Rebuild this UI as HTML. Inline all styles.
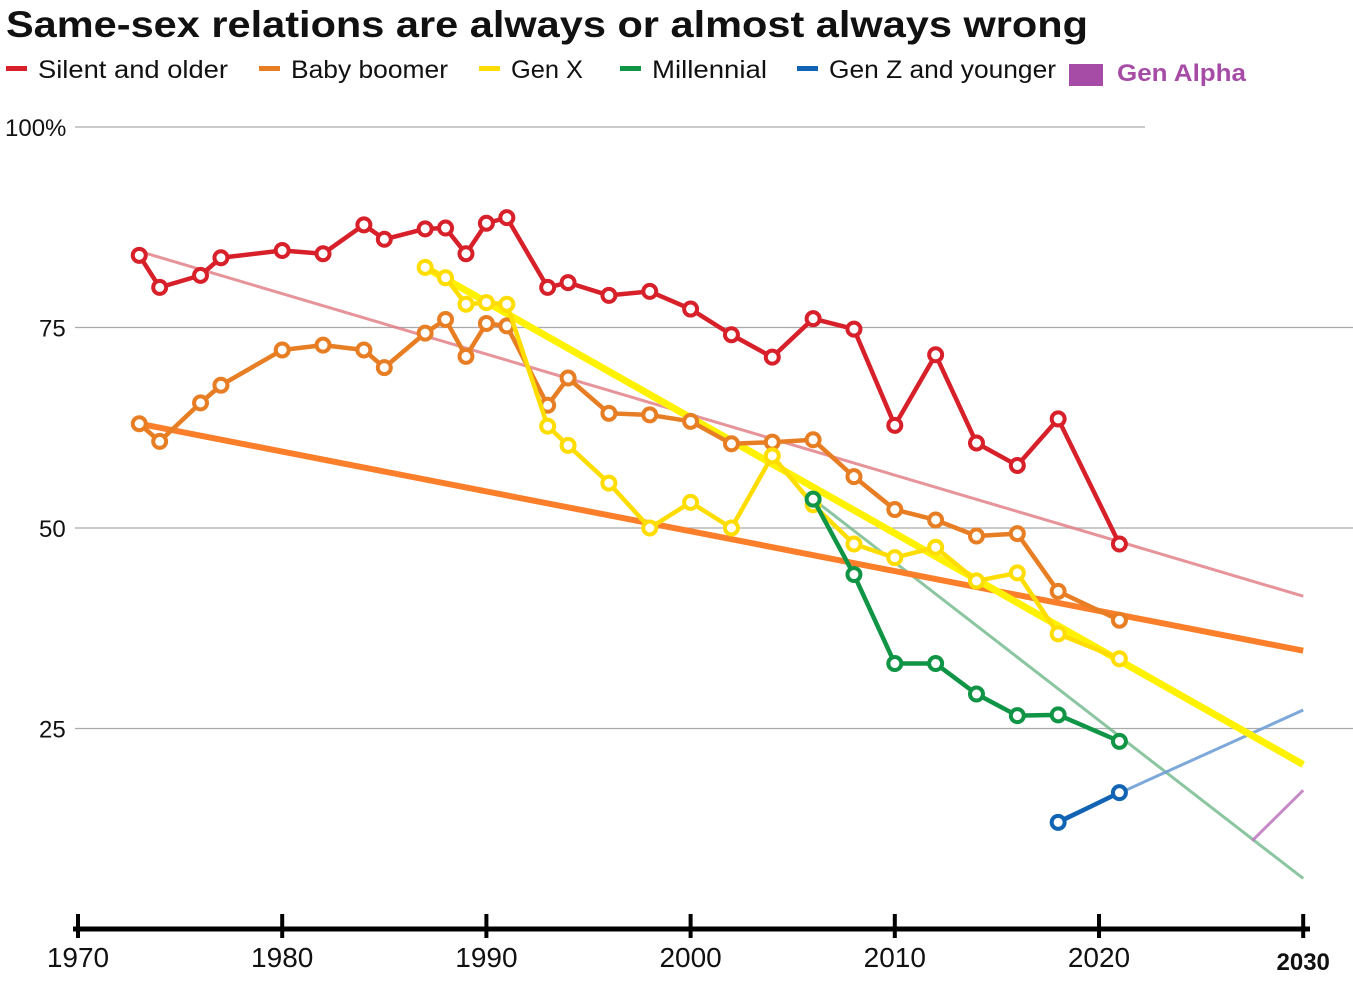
<!DOCTYPE html>
<html><head><meta charset="utf-8">
<style>
html,body{margin:0;padding:0;background:#fff;}
svg{display:block;font-family:"Liberation Sans",sans-serif;}
</style></head>
<body>
<svg id="chart" width="1353" height="986" viewBox="0 0 1353 986">
<text x="6" y="37" font-size="37" font-weight="bold" textLength="1082" lengthAdjust="spacingAndGlyphs" fill="#111">Same-sex relations are always or almost always wrong</text>
<g>
<rect x="6" y="66" width="21" height="5" fill="#d7202a"/>
<text x="38" y="78" font-size="25" textLength="190" lengthAdjust="spacingAndGlyphs" fill="#111">Silent and older</text>
<rect x="259" y="66" width="21" height="5" fill="#e87e24"/>
<text x="291" y="78" font-size="25" textLength="157" lengthAdjust="spacingAndGlyphs" fill="#111">Baby boomer</text>
<rect x="479" y="66" width="21" height="5" fill="#ffdd00"/>
<text x="511" y="78" font-size="25" textLength="72" lengthAdjust="spacingAndGlyphs" fill="#111">Gen X</text>
<rect x="620" y="66" width="21" height="5" fill="#109445"/>
<text x="652" y="78" font-size="25" textLength="115" lengthAdjust="spacingAndGlyphs" fill="#111">Millennial</text>
<rect x="797" y="66" width="21" height="5" fill="#1164b4"/>
<text x="829" y="78" font-size="25" textLength="227" lengthAdjust="spacingAndGlyphs" fill="#111">Gen Z and younger</text>
<rect x="1069" y="64" width="34" height="22" fill="#a64ca6"/>
<text x="1117" y="81" font-size="24" font-weight="bold" textLength="129" lengthAdjust="spacingAndGlyphs" fill="#a64ca6">Gen Alpha</text>
</g>
<g id="grid"></g>
<g id="trends"></g>
<g id="series"></g>
<g id="axis"></g>
</svg>
<script>
const yTicks=[100,75,50,25];
const xTicks=[1970,1980,1990,2000,2010,2020,2030];
const silentYears=[1973,1974,1976,1977,1980,1982,1984,1985,1987,1988,1989,1990,1991,1993,1994,1996,1998,2000,2002,2004,2006,2008,2010,2012,2014,2016,2018,2021];
const silentVals=[84,80,81.5,83.7,84.6,84.2,87.8,86,87.3,87.4,84.2,88,88.7,80,80.6,79,79.5,77.3,74.1,71.3,76.1,74.8,62.8,71.6,60.6,57.8,63.6,48];
const boomerYears=[1973,1974,1976,1977,1980,1982,1984,1985,1987,1988,1989,1990,1991,1993,1994,1996,1998,2000,2002,2004,2006,2008,2010,2012,2014,2016,2018,2021];
const boomerVals=[63,60.8,65.6,67.8,72.2,72.8,72.2,70,74.3,76,71.4,75.5,75.2,65.3,68.7,64.3,64.1,63.3,60.5,60.7,61,56.4,52.3,51,49,49.3,42.1,38.5];
const genxYears=[1987,1988,1989,1990,1991,1993,1994,1996,1998,2000,2002,2004,2006,2008,2010,2012,2014,2016,2018,2021];
const genxVals=[82.5,81.2,77.9,78.1,77.9,62.7,60.3,55.6,50,53.2,50,59,52.9,48,46.3,47.6,43.4,44.4,36.8,33.7];
const millYears=[2006,2008,2010,2012,2014,2016,2018,2021];
const millVals=[53.6,44.2,33.1,33.1,29.3,26.6,26.7,23.4];
const genzYears=[2018,2021];
const genzVals=[13.3,17];
const trendSilent=[[1973,84.5],[2030,41.5]];
const trendBoomer=[[1973,63],[2030,34.7]];
const trendGenx=[[1987,82.5],[2030,20.5]];
const trendMill=[[2006,53.6],[2030,6.3]];
const trendGenz=[[2018,13.5],[2030,27.3]];
const trendAlpha=[[2027.5,11],[2030,17.3]];

const NS="http://www.w3.org/2000/svg";
const x=yr=>78+(yr-1970)*20.42;
const y=v=>929-8.02*v;
function mk(tag,attrs,parent){const e=document.createElementNS(NS,tag);for(const k in attrs)e.setAttribute(k,attrs[k]);parent.appendChild(e);return e;}
const grid=document.getElementById('grid'),trends=document.getElementById('trends'),series=document.getElementById('series'),axis=document.getElementById('axis');

yTicks.forEach(t=>{
  const l=mk('line',{x1:75,x2:t===100?1145:1353,y1:y(t),y2:y(t),stroke:'#aaa','stroke-width':1.2},grid);
  
  
  const tx=mk('text',{x:t===100?5:39,y:y(t)+9,'font-size':24,fill:'#111'},grid);
  tx.textContent=t===100?'100%':String(t);
  
  
});

function trend(pts,color,w,op,nm){
  const l=mk('line',{x1:x(pts[0][0]),y1:y(pts[0][1]),x2:x(pts[1][0]),y2:y(pts[1][1]),stroke:color,'stroke-width':w,opacity:op},trends);
  
  
}
trend(trendSilent,'#e07a80',3,0.8,'trend-silent');
trend(trendMill,'#6fb88a',3,0.8,'trend-millennial');
trend(trendGenz,'#6f9fd6',3,0.9,'trend-genz');
trend(trendAlpha,'#c07fc0',3,0.9,'trend-genalpha');

function line(ys,vs,color,nm){
  const g=mk('g',{},series);
  
  
  const pts=ys.map((yr,i)=>x(yr)+','+y(vs[i])).join(' ');
  mk('polyline',{points:pts,fill:'none',stroke:color,'stroke-width':4.5,'stroke-linejoin':'round'},g);
  ys.forEach((yr,i)=>{
    const c=mk('circle',{cx:x(yr),cy:y(vs[i]),r:6.5,fill:'#fff',stroke:color,'stroke-width':4},g);
    
    
  });
}
line(silentYears,silentVals,'#d7202a','series-silent');
line(boomerYears,boomerVals,'#e87e24','series-boomer');
line(genxYears,genxVals,'#ffdd00','series-genx');
trend(trendBoomer,'#fb7f2a',6,1,'trend-boomer');
trend(trendGenx,'#fff200',7,1,'trend-genx');
line(millYears,millVals,'#109445','series-millennial');
line(genzYears,genzVals,'#1164b4','series-genz');

const al=mk('line',{x1:73,x2:1310,y1:929,y2:929,stroke:'#000','stroke-width':5},axis);


xTicks.forEach(t=>{
  const tk=mk('line',{x1:x(t),x2:x(t),y1:914,y2:938,stroke:'#000','stroke-width':4},axis);
  
  
  const tx=mk('text',{x:x(t),y:967,'font-size':t===2030?24:28,'text-anchor':'middle',fill:'#111','font-weight':t===2030?'bold':'normal'},axis);
  if(t===2030)tx.setAttribute('y',970);
  tx.textContent=String(t);
  
  
});
</script>
</body></html>
